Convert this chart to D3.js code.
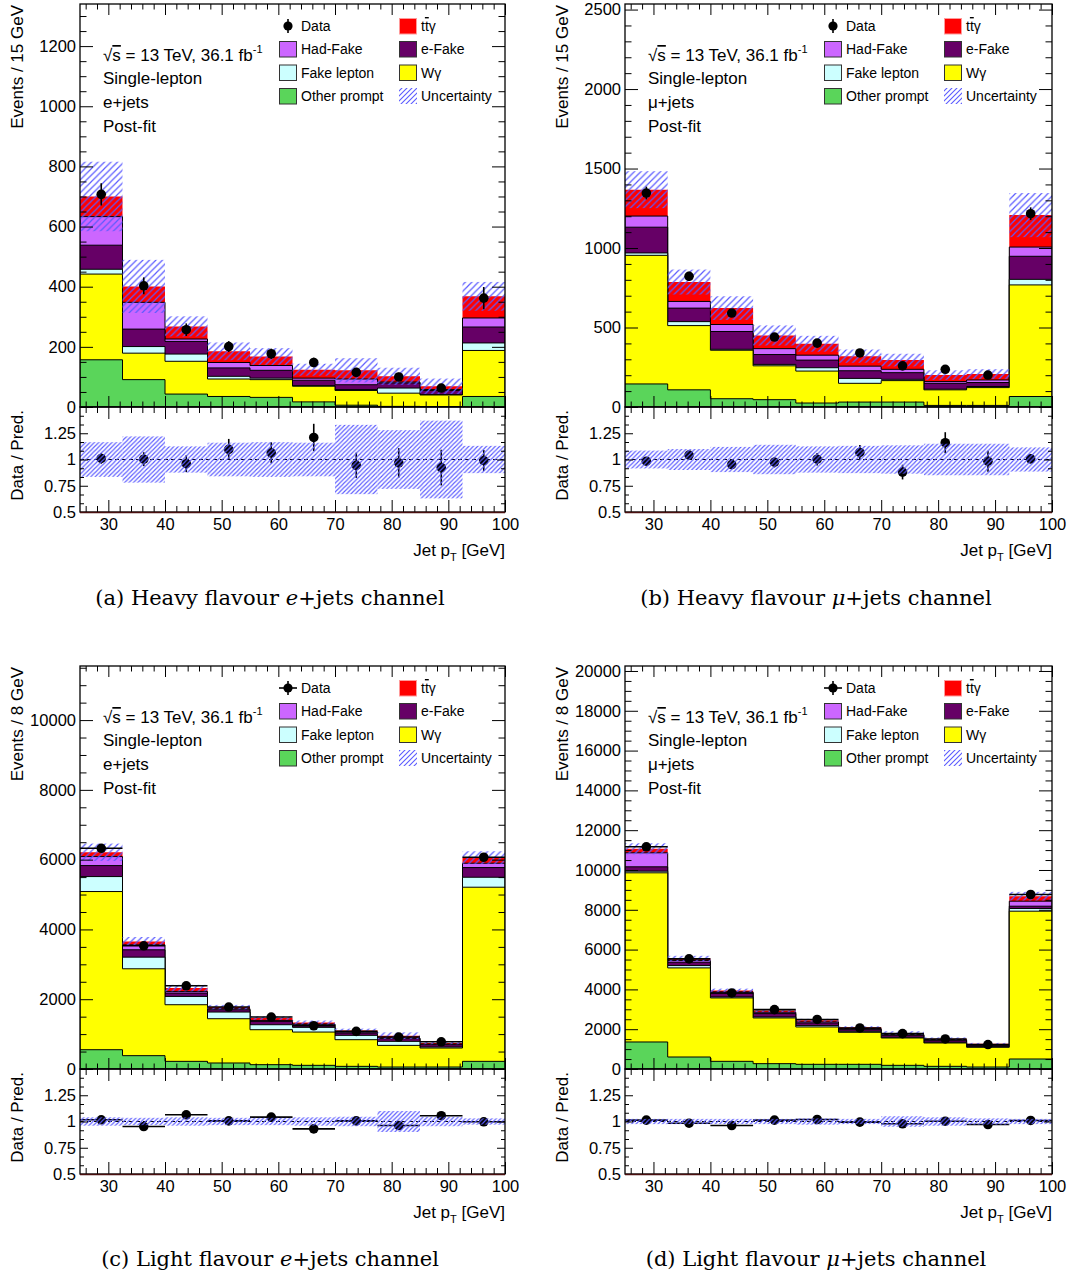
<!DOCTYPE html>
<html><head><meta charset="utf-8">
<script src="https://cdn.jsdelivr.net/npm/d3@7"></script>
<style>
body{margin:0;background:#fff;}
svg{display:block;font-family:"Liberation Sans",Arial,Helvetica,sans-serif;}
</style></head><body>
<svg id="c" width="1070" height="1278"></svg>
<script>
// ---------------- DATA ----------------
const binEdges = [25, 32.5, 40, 47.5, 55, 62.5, 70, 77.5, 85, 92.5, 100];
const xMajorTicks = [30, 40, 50, 60, 70, 80, 90, 100];
const ratioTickLabels = [0.5, 0.75, 1, 1.25];
const sampleKeys = ["other", "wgamma", "fakeLep", "eFake", "hadFake", "ttgamma"];

// (a) Heavy flavour e+jets
const a_other   = [157, 91, 43, 35, 32, 17, 6, 2, 1, 35];
const a_wgamma  = [285, 88, 109, 58, 59, 52, 49, 44, 39, 153];
const a_fakeLep = [16, 22, 24, 9, 5, 2, 3, 17, 1, 25];
const a_eFake   = [80, 58, 42, 28, 26, 18, 16, 17, 14, 53];
const a_hadFake = [95, 89, 8, 18, 16, 7, 19, 3, 3, 30];
const a_ttgamma = [67, 53, 42, 37, 30, 28, 29, 19, 11, 72];
const a_data    = [707, 403, 257, 201, 177, 148, 115, 100, 63, 362];
const a_dataErr = [37, 28, 21, 18, 17, 16, 15, 14, 12, 37];
const a_relUnc  = [0.165, 0.22, 0.125, 0.16, 0.165, 0.16, 0.33, 0.28, 0.37, 0.13];
const a_ratio   = [1.01, 1.003, 0.96, 1.096, 1.064, 1.21, 0.945, 0.968, 0.923, 0.99];
const a_ratioErr= [0.05, 0.066, 0.08, 0.1, 0.1, 0.13, 0.12, 0.14, 0.17, 0.1];
const a_yTicks  = [0, 200, 400, 600, 800, 1000, 1200];

// (b) Heavy flavour mu+jets
const b_other   = [145, 108, 52, 46, 25, 31, 31, 10, 10, 66];
const b_wgamma  = [809, 404, 305, 213, 201, 118, 135, 98, 112, 702];
const b_fakeLep = [15, 25, 6, 9, 21, 31, 8, 4, 7, 35];
const b_eFake   = [162, 85, 112, 62, 48, 48, 42, 37, 25, 145];
const b_hadFake = [70, 42, 44, 37, 31, 29, 21, 11, 16, 58];
const b_ttgamma = [166, 122, 103, 83, 72, 63, 58, 41, 37, 201];
const b_data    = [1346, 822, 591, 440, 402, 340, 259, 237, 201, 1216];
const b_dataErr = [40, 29, 24, 21, 20, 18, 16, 15, 14, 40];
const b_relUnc  = [0.085, 0.1, 0.12, 0.14, 0.125, 0.13, 0.135, 0.15, 0.15, 0.115];
const b_ratio   = [0.984, 1.042, 0.952, 0.974, 1.003, 1.067, 0.88, 1.16, 0.984, 1.006];
const b_ratioErr= [0.03, 0.035, 0.04, 0.05, 0.06, 0.07, 0.07, 0.1, 0.1, 0.04];
const b_yTicks  = [0, 500, 1000, 1500, 2000, 2500];

// (c) Light flavour e+jets
const c_other   = [553, 382, 219, 172, 124, 105, 76, 57, 57, 219];
const c_wgamma  = [4533, 2490, 1623, 1269, 1002, 954, 764, 620, 544, 4991];
const c_fakeLep = [429, 334, 238, 191, 143, 134, 124, 115, 29, 286];
const c_eFake   = [315, 210, 96, 66, 96, 76, 67, 76, 67, 277];
const c_hadFake = [258, 143, 47, 29, 28, 19, 28, 19, 19, 124];
const c_ttgamma = [124, 96, 96, 48, 67, 48, 48, 67, 28, 162];
const c_data    = [6326, 3531, 2385, 1775, 1489, 1240, 1078, 916, 780, 6069];
const c_dataErr = [80, 60, 49, 42, 39, 35, 33, 30, 28, 78];
const c_relUnc  = [0.04, 0.035, 0.04, 0.035, 0.035, 0.04, 0.045, 0.1, 0.045, 0.03];
const c_ratio   = [1.016, 0.952, 1.064, 1.006, 1.042, 0.93, 1.006, 0.962, 1.055, 0.997];
const c_ratioErr= [0.013, 0.017, 0.021, 0.024, 0.026, 0.027, 0.03, 0.032, 0.037, 0.013];
const c_yTicks  = [0, 2000, 4000, 6000, 8000, 10000];

// (d) Light flavour mu+jets
const d_other   = [1358, 603, 385, 268, 235, 235, 184, 134, 100, 503];
const d_wgamma  = [8500, 4477, 3186, 2297, 1877, 1609, 1375, 1174, 990, 7427];
const d_fakeLep = [83, 117, 50, 50, 67, 50, 34, 33, 33, 134];
const d_eFake   = [218, 168, 201, 168, 134, 84, 100, 84, 67, 117];
const d_hadFake = [704, 83, 51, 67, 51, 50, 34, 50, 34, 252];
const d_ttgamma = [202, 101, 67, 84, 84, 68, 84, 51, 50, 251];
const d_data    = [11165, 5532, 3822, 2984, 2490, 2062, 1777, 1509, 1230, 8768];
const d_dataErr = [106, 74, 62, 55, 50, 45, 42, 39, 35, 94];
const d_relUnc  = [0.025, 0.025, 0.025, 0.025, 0.03, 0.025, 0.05, 0.04, 0.03, 0.025];
const d_ratio   = [1.013, 0.984, 0.962, 1.013, 1.019, 0.994, 0.978, 1.003, 0.971, 1.01];
const d_ratioErr= [0.01, 0.013, 0.016, 0.018, 0.02, 0.022, 0.024, 0.026, 0.028, 0.011];
const d_yTicks  = [0, 2000, 4000, 6000, 8000, 10000, 12000, 14000, 16000, 18000, 20000];

// ---------------- STYLE / LAYOUT ----------------
const colors = {other:"#5ad55a", wgamma:"#ffff00", fakeLep:"#ccffff", eFake:"#660066", hadFake:"#cc66ff", ttgamma:"#ff0000"};
const hatchColor = "#5a5aff";

const panels = [
  {x0:80, x1:505, top:4, mid:407, bot:512, ymax:1340, yMinorStep:50, yTitle:"Events / 15 GeV", chan:"e", xerr:false,
   caption:["(a) Heavy flavour ","e","+jets channel"], capX:270, capY:605,
   s:{other:a_other,wgamma:a_wgamma,fakeLep:a_fakeLep,eFake:a_eFake,hadFake:a_hadFake,ttgamma:a_ttgamma},
   data:a_data, dataErr:a_dataErr, relUnc:a_relUnc, ratio:a_ratio, ratioErr:a_ratioErr, yTicks:a_yTicks},
  {x0:625, x1:1052, top:4, mid:407, bot:512, ymax:2535, yMinorStep:100, yTitle:"Events / 15 GeV", chan:"μ", xerr:false,
   caption:["(b) Heavy flavour ","μ","+jets channel"], capX:816, capY:605,
   s:{other:b_other,wgamma:b_wgamma,fakeLep:b_fakeLep,eFake:b_eFake,hadFake:b_hadFake,ttgamma:b_ttgamma},
   data:b_data, dataErr:b_dataErr, relUnc:b_relUnc, ratio:b_ratio, ratioErr:b_ratioErr, yTicks:b_yTicks},
  {x0:80, x1:505, top:666, mid:1069, bot:1174, ymax:11550, yMinorStep:500, yTitle:"Events / 8 GeV", chan:"e", xerr:true,
   caption:["(c) Light flavour ","e","+jets channel"], capX:270, capY:1266,
   s:{other:c_other,wgamma:c_wgamma,fakeLep:c_fakeLep,eFake:c_eFake,hadFake:c_hadFake,ttgamma:c_ttgamma},
   data:c_data, dataErr:c_dataErr, relUnc:c_relUnc, ratio:c_ratio, ratioErr:c_ratioErr, yTicks:c_yTicks},
  {x0:625, x1:1052, top:666, mid:1069, bot:1174, ymax:20250, yMinorStep:500, yTitle:"Events / 8 GeV", chan:"μ", xerr:true,
   caption:["(d) Light flavour ","μ","+jets channel"], capX:816, capY:1266,
   s:{other:d_other,wgamma:d_wgamma,fakeLep:d_fakeLep,eFake:d_eFake,hadFake:d_hadFake,ttgamma:d_ttgamma},
   data:d_data, dataErr:d_dataErr, relUnc:d_relUnc, ratio:d_ratio, ratioErr:d_ratioErr, yTicks:d_yTicks}
];

const svg = d3.select("#c");
const defs = svg.append("defs");
function hatch(id, s, w) {
  const p = defs.append("pattern").attr("id", id).attr("patternUnits", "userSpaceOnUse")
    .attr("width", s).attr("height", s);
  p.append("path")
    .attr("d", `M0,${s} L${s},0 M${-s/2},${s/2} L${s/2},${-s/2} M${s/2},${s*1.5} L${s*1.5},${s/2}`)
    .attr("stroke", hatchColor).attr("stroke-width", w).attr("fill", "none");
}
hatch("hMain", 6.5, 1.2);
hatch("hRatio", 4.4, 1.1);
hatch("hLeg", 5, 1.1);

function styleAxis(g, fs) {
  g.select(".domain").remove();
  g.selectAll(".tick line").attr("stroke", "#000").attr("stroke-width", 1);
  g.selectAll("text").attr("font-size", fs).attr("font-family", '"Liberation Sans",Arial,sans-serif').attr("fill", "#000");
}
function range(a, b, step) { const r = []; for (let v = a; v <= b + 1e-9; v += step) r.push(+v.toFixed(6)); return r; }

const xMinorTicks = range(26, 100, 2).filter(v => v % 10 !== 0);

panels.forEach((P, pi) => {
  const g = svg.append("g");
  const x = d3.scaleLinear().domain([25, 100]).range([P.x0, P.x1]);
  const y = d3.scaleLinear().domain([0, P.ymax]).range([P.mid, P.top]);
  const yr = d3.scaleLinear().domain([0.5, 1.5]).range([P.bot, P.mid]);

  const clipId = "clip" + pi, clipR = "clipR" + pi;
  defs.append("clipPath").attr("id", clipId).append("rect")
    .attr("x", P.x0).attr("y", P.top).attr("width", P.x1 - P.x0).attr("height", P.mid - P.top);
  defs.append("clipPath").attr("id", clipR).append("rect")
    .attr("x", P.x0).attr("y", P.mid).attr("width", P.x1 - P.x0).attr("height", P.bot - P.mid);

  const rows = binEdges.slice(0, -1).map((lo, i) => {
    const r = {lo, hi: binEdges[i + 1], c: (lo + binEdges[i + 1]) / 2};
    sampleKeys.forEach(k => r[k] = P.s[k][i]);
    return r;
  });
  const series = d3.stack().keys(sampleKeys)(rows);
  const totals = series[series.length - 1].map(d => d[1]);

  // ---- main stacked histogram ----
  const gm = g.append("g").attr("clip-path", `url(#${clipId})`);
  const area = d3.area().x(p => x(p[0])).y0(y(0)).y1(p => y(p[1]));
  series.slice().reverse().forEach(s => {
    const pts = rows.flatMap((r, i) => [[r.lo, s[i][1]], [r.hi, s[i][1]]]);
    gm.append("path").attr("d", area(pts)).attr("fill", colors[s.key])
      .attr("stroke", s.key === "ttgamma" ? "none" : "#000").attr("stroke-width", 1);
  });
  // uncertainty band
  gm.selectAll(".unc").data(rows).join("rect")
    .attr("x", r => x(r.lo)).attr("width", r => x(r.hi) - x(r.lo))
    .attr("y", (r, i) => y(totals[i] * (1 + P.relUnc[i])))
    .attr("height", (r, i) => y(totals[i] * (1 - P.relUnc[i])) - y(totals[i] * (1 + P.relUnc[i])))
    .attr("fill", "url(#hMain)");
  // data
  rows.forEach((r, i) => {
    const d = P.data[i], e = P.dataErr[i];
    gm.append("line").attr("x1", x(r.c)).attr("x2", x(r.c)).attr("y1", y(d - e)).attr("y2", y(d + e))
      .attr("stroke", "#000").attr("stroke-width", 1.6);
    if (P.xerr) gm.append("line").attr("x1", x(r.lo)).attr("x2", x(r.hi)).attr("y1", y(d)).attr("y2", y(d))
      .attr("stroke", "#000").attr("stroke-width", 1.6);
    gm.append("circle").attr("cx", x(r.c)).attr("cy", y(d)).attr("r", 4.8).attr("fill", "#000");
  });

  // ---- ratio ----
  const gr = g.append("g").attr("clip-path", `url(#${clipR})`);
  gr.append("line").attr("x1", P.x0).attr("x2", P.x1).attr("y1", yr(1)).attr("y2", yr(1))
    .attr("stroke", "#000").attr("stroke-width", 1).attr("stroke-dasharray", "4,3");
  rows.forEach((r, i) => {
    const d = P.ratio[i], e = P.ratioErr[i];
    gr.append("line").attr("x1", x(r.c)).attr("x2", x(r.c)).attr("y1", yr(d - e)).attr("y2", yr(d + e))
      .attr("stroke", "#000").attr("stroke-width", 1.6);
    if (P.xerr) gr.append("line").attr("x1", x(r.lo)).attr("x2", x(r.hi)).attr("y1", yr(d)).attr("y2", yr(d))
      .attr("stroke", "#000").attr("stroke-width", 1.6);
    gr.append("circle").attr("cx", x(r.c)).attr("cy", yr(d)).attr("r", 4.8).attr("fill", "#000");
  });
  gr.selectAll(".runc").data(rows).join("rect")
    .attr("x", r => x(r.lo)).attr("width", r => x(r.hi) - x(r.lo))
    .attr("y", (r, i) => yr(1 + P.relUnc[i]))
    .attr("height", (r, i) => yr(1 - P.relUnc[i]) - yr(1 + P.relUnc[i]))
    .attr("fill", "url(#hRatio)");

  // ---- axes (inward ticks, all four sides) ----
  const fs = 16.5;
  [[d3.axisBottom, P.mid], [d3.axisTop, P.top]].forEach(([ax, yy]) => {
    g.append("g").attr("transform", `translate(0,${yy})`)
      .call(ax(x).tickValues(xMajorTicks).tickSize(-11).tickFormat("")).call(a => styleAxis(a, fs));
    g.append("g").attr("transform", `translate(0,${yy})`)
      .call(ax(x).tickValues(xMinorTicks).tickSize(-5.5).tickFormat("")).call(a => styleAxis(a, fs));
  });
  const yMinor = range(0, P.ymax, P.yMinorStep).filter(v => !P.yTicks.includes(v));
  g.append("g").attr("transform", `translate(${P.x0},0)`)
    .call(d3.axisLeft(y).tickValues(P.yTicks).tickSize(-13).tickPadding(4).tickFormat(d => String(d)))
    .call(a => styleAxis(a, fs));
  g.append("g").attr("transform", `translate(${P.x0},0)`)
    .call(d3.axisLeft(y).tickValues(yMinor).tickSize(-6.5).tickFormat("")).call(a => styleAxis(a, fs));
  g.append("g").attr("transform", `translate(${P.x1},0)`)
    .call(d3.axisRight(y).tickValues(P.yTicks).tickSize(-13).tickFormat("")).call(a => styleAxis(a, fs));
  g.append("g").attr("transform", `translate(${P.x1},0)`)
    .call(d3.axisRight(y).tickValues(yMinor).tickSize(-6.5).tickFormat("")).call(a => styleAxis(a, fs));

  g.append("g").attr("transform", `translate(0,${P.bot})`)
    .call(d3.axisBottom(x).tickValues(xMajorTicks).tickSize(-12).tickPadding(6).tickFormat(d => String(d)))
    .call(a => styleAxis(a, fs));
  g.append("g").attr("transform", `translate(0,${P.bot})`)
    .call(d3.axisBottom(x).tickValues(xMinorTicks).tickSize(-6).tickFormat("")).call(a => styleAxis(a, fs));
  g.append("g").attr("transform", `translate(0,${P.mid})`)
    .call(d3.axisTop(x).tickValues(xMajorTicks).tickSize(-12).tickFormat("")).call(a => styleAxis(a, fs));
  g.append("g").attr("transform", `translate(0,${P.mid})`)
    .call(d3.axisTop(x).tickValues(xMinorTicks).tickSize(-6).tickFormat("")).call(a => styleAxis(a, fs));
  const rMajor = [0.5, 0.75, 1, 1.25, 1.5];
  const rMinor = range(0, 12, 1).map(k => 0.5 + k / 12).filter(v => v < 1.5 && Math.abs((v - 0.5) * 4 - Math.round((v - 0.5) * 4)) > 1e-6);
  g.append("g").attr("transform", `translate(${P.x0},0)`)
    .call(d3.axisLeft(yr).tickValues(rMajor).tickSize(-8).tickPadding(4)
      .tickFormat(d => ratioTickLabels.includes(d) ? String(d) : ""))
    .call(a => styleAxis(a, fs));
  g.append("g").attr("transform", `translate(${P.x0},0)`)
    .call(d3.axisLeft(yr).tickValues(rMinor).tickSize(-4).tickFormat("")).call(a => styleAxis(a, fs));
  g.append("g").attr("transform", `translate(${P.x1},0)`)
    .call(d3.axisRight(yr).tickValues(rMajor).tickSize(-8).tickFormat("")).call(a => styleAxis(a, fs));
  g.append("g").attr("transform", `translate(${P.x1},0)`)
    .call(d3.axisRight(yr).tickValues(rMinor).tickSize(-4).tickFormat("")).call(a => styleAxis(a, fs));

  // frames
  g.append("rect").attr("x", P.x0).attr("y", P.top).attr("width", P.x1 - P.x0).attr("height", P.mid - P.top)
    .attr("fill", "none").attr("stroke", "#000").attr("stroke-width", 1.3);
  g.append("rect").attr("x", P.x0).attr("y", P.mid).attr("width", P.x1 - P.x0).attr("height", P.bot - P.mid)
    .attr("fill", "none").attr("stroke", "#000").attr("stroke-width", 1.3);
  g.append("line").attr("x1", P.x0).attr("x2", P.x1).attr("y1", P.bot + 0.5).attr("y2", P.bot + 0.5)
    .attr("stroke", "#4a1010").attr("stroke-width", 1.5);

  // axis titles
  g.append("text").attr("transform", `translate(${P.x0 - 57},${P.top + 1}) rotate(-90)`)
    .attr("text-anchor", "end").attr("font-size", 17).text(P.yTitle);
  g.append("text").attr("transform", `translate(${P.x0 - 57},${P.mid + 3}) rotate(-90)`)
    .attr("text-anchor", "end").attr("font-size", 17).text("Data / Pred.");
  const xt = g.append("text").attr("x", P.x1).attr("y", P.bot + 44).attr("text-anchor", "end").attr("font-size", 17);
  xt.append("tspan").text("Jet p");
  xt.append("tspan").attr("font-size", 11).attr("dy", 5).text("T");
  xt.append("tspan").attr("dy", -5).text(" [GeV]");

  // annotation
  const ax0 = P.x0 + 23;
  const t1 = g.append("text").attr("x", ax0).attr("y", P.top + 57).attr("font-size", 17);
  t1.append("tspan").text("√");
  t1.append("tspan").style("text-decoration", "overline").text("s");
  t1.append("tspan").text(" = 13 TeV, 36.1 fb");
  t1.append("tspan").attr("font-size", 11).attr("dy", -8).text("-1");
  ["Single-lepton", P.chan + "+jets", "Post-fit"].forEach((s, k) => {
    g.append("text").attr("x", ax0).attr("y", P.top + 80 + 24 * k).attr("font-size", 17).text(s);
  });

  // legend
  const legRows = [P.top + 22, P.top + 45, P.top + 68.5, P.top + 92];
  const c1 = P.x0 + 199, c2 = P.x0 + 319;
  const leg = [
    [c1, 0, "data", "Data"], [c2, 0, "ttgamma", null],
    [c1, 1, "hadFake", "Had-Fake"], [c2, 1, "eFake", "e-Fake"],
    [c1, 2, "fakeLep", "Fake lepton"], [c2, 2, "wgamma", "Wγ"],
    [c1, 3, "other", "Other prompt"], [c2, 3, "unc", "Uncertainty"]
  ];
  leg.forEach(([lx, ri, key, label]) => {
    const cy = legRows[ri];
    if (key === "data") {
      g.append("line").attr("x1", lx + 9).attr("x2", lx + 9).attr("y1", cy - 7).attr("y2", cy + 7)
        .attr("stroke", "#000").attr("stroke-width", 1.6);
      if (P.xerr) g.append("line").attr("x1", lx).attr("x2", lx + 18).attr("y1", cy).attr("y2", cy)
        .attr("stroke", "#000").attr("stroke-width", 1.6);
      g.append("circle").attr("cx", lx + 9).attr("cy", cy).attr("r", 4.6).attr("fill", "#000");
    } else if (key === "unc") {
      g.append("rect").attr("x", lx).attr("y", cy - 8).attr("width", 18).attr("height", 16).attr("fill", "url(#hLeg)");
    } else {
      g.append("rect").attr("x", lx + 0.5).attr("y", cy - 7.5).attr("width", 17).attr("height", 15.5)
        .attr("fill", colors[key]).attr("stroke", key === "ttgamma" ? "#ff9a9a" : "#333").attr("stroke-width", 1);
    }
    const tx = g.append("text").attr("x", lx + 22).attr("y", cy + 5).attr("font-size", 14);
    if (label) tx.text(label);
    else { tx.append("tspan").text("t"); tx.append("tspan").style("text-decoration", "overline").text("t"); tx.append("tspan").text("γ"); }
  });

  // caption
  const cap = g.append("text").attr("x", P.capX).attr("y", P.capY).attr("text-anchor", "middle")
    .attr("font-size", 21).attr("font-family", '"DejaVu Serif","Liberation Serif",serif');
  cap.append("tspan").text(P.caption[0]);
  cap.append("tspan").attr("font-style", "italic").text(P.caption[1]);
  cap.append("tspan").text(P.caption[2]);
});
</script>
</body></html>
